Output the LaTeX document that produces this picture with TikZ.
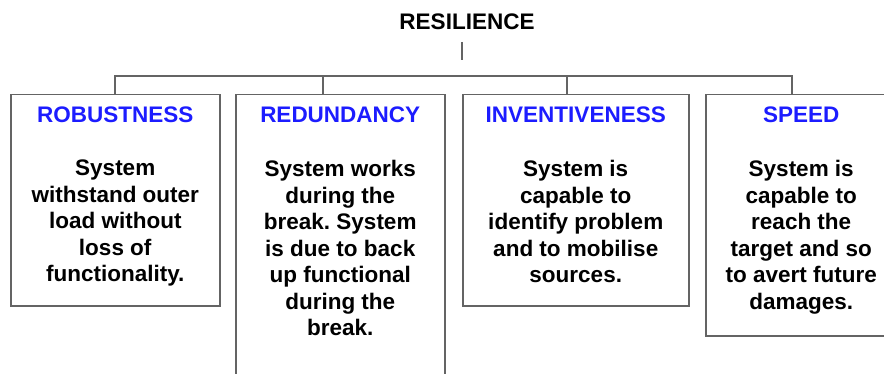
\documentclass[tikz,border=0pt]{standalone}
\usepackage{fontspec}
\setmainfont{Liberation Sans}
\frenchspacing
\definecolor{linegray}{RGB}{100,100,100}
\definecolor{headblue}{RGB}{28,28,255}

\begin{document}
\begin{tikzpicture}[x=1pt,y=-1pt,
    card/.style={draw=linegray,line width=1.5pt,anchor=north west,inner sep=0pt},
    head/.style={text=headblue,inner sep=0pt,font=\fontsize{22.5}{26.5}\selectfont\bfseries},
    body/.style={align=center,inner sep=0pt,anchor=north,font=\fontsize{22.5}{26.5}\selectfont\bfseries},
    link/.style={draw=linegray,line width=1.5pt}]
    \useasboundingbox (0,0) rectangle (884,374);
    % root
    \node[inner sep=0pt,font=\fontsize{22.5}{26.5}\selectfont\bfseries] (res) at (467,22) {RESILIENCE};
    \coordinate (t1) at (462,42);
    \coordinate (t2) at (462,60);
    \path[link] (t1) -- (t2);
    % boxes
    \node[card,minimum width=209pt,minimum height=211pt] (rob) at (10,94) {};
    \node[card,minimum width=209pt,minimum height=320pt] (red) at (235,94) {};
    \node[card,minimum width=226pt,minimum height=211pt] (inv) at (462,94) {};
    \node[card,minimum width=191pt,minimum height=241pt] (spd) at (705,94) {};
    % tree lines
    \coordinate (b1) at (115,76);
    \coordinate (b2) at (323,76);
    \coordinate (b3) at (567,76);
    \coordinate (b4) at (792,76);
    \path[link] (b1 |- rob.north) -- (b1) -- (b4) -- (b4 |- spd.north);
    \path[link] (b2) -- (b2 |- red.north);
    \path[link] (b3) -- (b3 |- inv.north);
    % headings
    \node[head] (robh) at ([yshift=-21pt]rob.north) {ROBUSTNESS};
    \node[head] (redh) at ([yshift=-21pt]red.north) {REDUNDANCY};
    \node[head] (invh) at ([yshift=-21pt]inv.north) {INVENTIVENESS};
    \node[head] (spdh) at ([yshift=-21pt]spd.north) {SPEED};
    % texts
    \node[body] (robt) at ([yshift=-66pt]rob.north) {System\\withstand outer\\load without\\loss of\\functionality.};
    \node[body] (redt) at ([yshift=-66pt]red.north) {System works\\during the\\break. System\\is due to back\\up functional\\during the\\break.};
    \node[body] (invt) at ([yshift=-66pt]inv.north) {System is\\capable to\\identify problem\\and to mobilise\\sources.};
    \node[body] (spdt) at ([yshift=-66pt]spd.north) {System is\\capable to\\reach the\\target and so\\to avert future\\damages.};
\end{tikzpicture}
\end{document}
